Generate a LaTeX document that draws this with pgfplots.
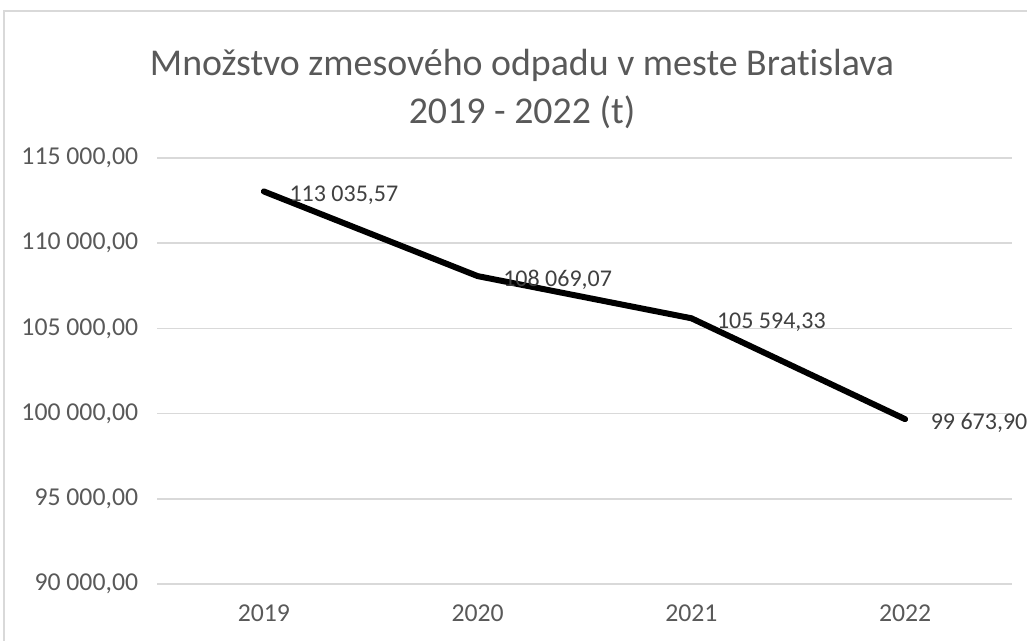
\documentclass[border=0pt]{standalone}
\usepackage{fontspec}
\setmainfont{Carlito}[Ligatures=NoCommon]
\usepackage{pgfplots}
\pgfplotsset{compat=1.18}
\definecolor{txt}{HTML}{595959}
\definecolor{lbl}{HTML}{404040}
\definecolor{grd}{HTML}{D9D9D9}
\begin{document}
\begin{tikzpicture}
  % 1 px of the reference = 0.75pt
  \useasboundingbox (0,0) rectangle (770.25pt,480.75pt);
  \draw[grd, line width=1.2pt] (3pt,0) -- (3pt,472.5pt) -- (770.25pt,472.5pt);
  \node[txt, font=\fontsize{28.4}{35.5}\selectfont, align=center] at (391.5pt,414pt)
    {Množstvo zmesového odpadu v meste Bratislava\\2019 - 2022 (t)};
  \begin{axis}[
    at={(117.75pt,42.75pt)}, anchor=south west,
    scale only axis,
    width=641.25pt, height=319.5pt,
    xmin=-0.5, xmax=3.5,
    ymin=90000, ymax=115000,
    xtick={0,1,2,3},
    xticklabels={2019,2020,2021,2022},
    ytick={90000,95000,100000,105000,110000,115000},
    yticklabels={{90 000,00},{95 000,00},{100 000,00},{105 000,00},{110 000,00},{115 000,00}},
    scaled y ticks=false,
    axis line style={draw=none},
    major tick length=0pt,
    ymajorgrids,
    grid style={grd, line width=1.2pt},
    tick label style={txt, font=\fontsize{19.3}{23}\selectfont, inner sep=0pt},
    yticklabel style={anchor=east, xshift=-14pt},
    xticklabel style={anchor=north, yshift=-15.5pt},
    clip=false,
  ]
    \addplot[black, line width=4.5pt, line join=round, line cap=round,
      point meta=explicit symbolic,
      nodes near coords,
      nodes near coords style={lbl, font=\fontsize{18}{22}\selectfont, anchor=west, inner sep=0pt, xshift=17pt, yshift=-3pt}]
      coordinates {
        (0,113035.57) [113 035,57]
        (1,108069.07) [108 069,07]
        (2,105594.33) [105 594,33]
        (3,99673.90) [99 673,90]
      };
  \end{axis}
\end{tikzpicture}
\end{document}
